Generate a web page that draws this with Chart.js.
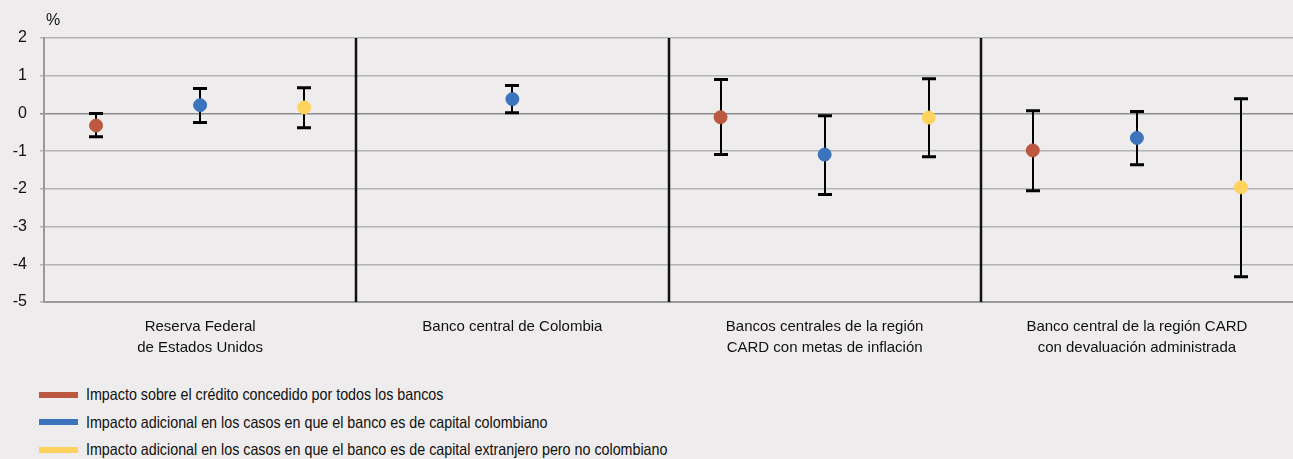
<!DOCTYPE html>
<html>
<head>
<meta charset="utf-8">
<script src="https://cdn.jsdelivr.net/npm/chart.js@4"></script>
<style>
  body { margin: 0; background: #eeecec; font-family: "Liberation Sans", Arial, sans-serif; }
  #wrap { position: relative; width: 1293px; height: 459px; overflow: hidden; }
  #chartBox { position: absolute; left: 0; top: 0; width: 1293px; height: 368px; }
  #unit { position: absolute; left: 46px; top: 11px; font-size: 16px; color: #111; }
  #legend { position: absolute; left: 39px; top: 381px; font-size: 16.5px; color: #111; }
  .item { height: 27.5px; display: flex; align-items: center; }
  .swatch { width: 39px; height: 6px; margin-right: 8px; }
  .txt { display: inline-block; transform: scaleX(0.866); transform-origin: left center; white-space: nowrap; }
</style>
</head>
<body>
<div id="wrap">
  <div id="chartBox"><canvas id="grafico"></canvas></div>
  <div id="unit">%</div>
  <div id="legend"></div>
</div>
<script>
const groups = [
  ['Reserva Federal', 'de Estados Unidos'],
  ['Banco central de Colombia'],
  ['Bancos centrales de la región', 'CARD con metas de inflación'],
  ['Banco central de la región CARD', 'con devaluación administrada']
];
const seriesNames = [
  'Impacto sobre el crédito concedido por todos los bancos',
  'Impacto adicional en los casos en que el banco es de capital colombiano',
  'Impacto adicional en los casos en que el banco es de capital extranjero pero no colombiano'
];
const seriesColors = ['#bd5840', '#3b74bc', '#fdd35e'];

// punto estimado y banda de confianza, por grupo
const todos      = [-0.32, null, -0.10, -0.98];
const todosLow   = [-0.62, null, -1.09, -2.05];
const todosHigh  = [ 0.00, null,  0.90,  0.07];

const colombia     = [ 0.22, 0.38, -1.09, -0.65];
const colombiaLow  = [-0.24, 0.02, -2.15, -1.36];
const colombiaHigh = [ 0.66, 0.74, -0.06,  0.05];

const extranjero     = [ 0.16, null, -0.11, -1.96];
const extranjeroLow  = [-0.38, null, -1.15, -4.33];
const extranjeroHigh = [ 0.68, null,  0.92,  0.39];

const yTicks = [2, 1, 0, -1, -2, -3, -4, -5];

const values = [todos, colombia, extranjero];
const lows = [todosLow, colombiaLow, extranjeroLow];
const highs = [todosHigh, colombiaHigh, extranjeroHigh];

function buildDataset(s) {
  const pts = [];
  values[s].forEach((v, g) => {
    if (v !== null) pts.push({ x: g * 3 + s + 0.5, y: v, lo: lows[s][g], hi: highs[s][g] });
  });
  return {
    label: seriesNames[s],
    data: pts,
    backgroundColor: seriesColors[s],
    borderColor: seriesColors[s],
    pointRadius: 6.5,
    pointHoverRadius: 6.5,
    showLine: false
  };
}

const errorBars = {
  id: 'errorBars',
  beforeDatasetsDraw(chart) {
    const ctx = chart.ctx;
    const xs = chart.scales.x, ys = chart.scales.y;
    ctx.save();
    // separadores de grupos
    ctx.strokeStyle = '#111';
    ctx.lineWidth = 2.5;
    for (let g = 1; g < groups.length; g++) {
      const px = Math.round(xs.getPixelForValue(g * 3));
      ctx.beginPath();
      ctx.moveTo(px, chart.chartArea.top);
      ctx.lineTo(px, chart.chartArea.bottom);
      ctx.stroke();
    }
    chart.data.datasets.forEach(ds => {
      ds.data.forEach(p => {
        const px = Math.round(xs.getPixelForValue(p.x));
        const top = ys.getPixelForValue(p.hi);
        const bot = ys.getPixelForValue(p.lo);
        ctx.strokeStyle = '#000';
        ctx.lineWidth = 2;
        ctx.beginPath();
        ctx.moveTo(px, top);
        ctx.lineTo(px, bot);
        ctx.stroke();
        ctx.lineWidth = 3;
        ctx.beginPath();
        ctx.moveTo(px - 7, top);
        ctx.lineTo(px + 7, top);
        ctx.moveTo(px - 7, bot);
        ctx.lineTo(px + 7, bot);
        ctx.stroke();
      });
    });
    ctx.restore();
  }
};

function main() {
  const ctx = document.getElementById('grafico');
  new Chart(ctx, {
    type: 'scatter',
    data: { datasets: [0, 1, 2].map(buildDataset) },
    options: {
      responsive: true,
      maintainAspectRatio: false,
      animation: false,
      layout: { autoPadding: false, padding: { top: 38, right: -12, left: 0, bottom: 0 } },
      plugins: { legend: { display: false }, tooltip: { enabled: false } },
      scales: {
        x: {
          type: 'linear',
          min: 0,
          max: 12,
          afterBuildTicks: scale => { scale.ticks = groups.map((g, i) => ({ value: i * 3 + 1.5 })); },
          afterFit: scale => { scale.height = 66; scale.paddingRight = 0; scale.paddingLeft = 0; },
          grid: { display: false, drawTicks: false },
          border: { display: true, color: '#9a9a9a', width: 2 },
          ticks: {
            autoSkip: false,
            maxRotation: 0,
            padding: 14,
            color: '#111',
            font: { family: '"Liberation Sans", Arial, sans-serif', size: 15, lineHeight: 1.4 },
            callback: (v) => groups[Math.round((v - 1.5) / 3)]
          }
        },
        y: {
          min: -5,
          max: 2,
          afterBuildTicks: scale => { scale.ticks = yTicks.map(v => ({ value: v })); },
          afterFit: scale => { scale.width = 44; },
          grid: {
            color: c => c.tick && c.tick.value === 0 ? '#8c8c8c' : '#b4b4b4',
            lineWidth: 1.5,
            drawTicks: true,
            tickLength: 4
          },
          border: { display: true, color: '#9a9a9a', width: 2 },
          ticks: {
            padding: 13,
            color: '#111',
            font: { family: '"Liberation Sans", Arial, sans-serif', size: 16 }
          }
        }
      }
    },
    plugins: [errorBars]
  });

  const legend = document.getElementById('legend');
  seriesNames.forEach((name, i) => {
    const item = document.createElement('div');
    item.className = 'item';
    item.innerHTML = '<span class="swatch" style="background:' + seriesColors[i] + '"></span><span class="txt">' + name + '</span>';
    legend.appendChild(item);
  });
}

main();
</script>
</body>
</html>
